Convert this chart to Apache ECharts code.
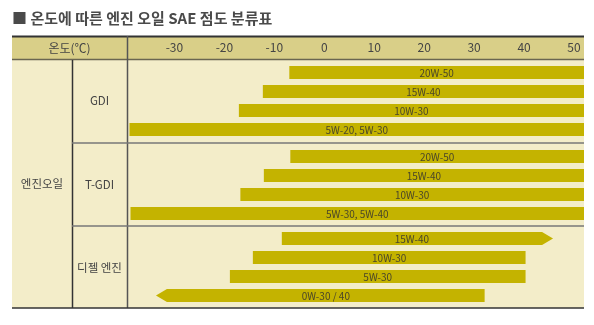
<!DOCTYPE html>
<html><head><meta charset="utf-8">
<script src="https://cdn.jsdelivr.net/npm/echarts@6/dist/echarts.min.js"></script>
<style>html,body{margin:0;padding:0;background:#fff;}#c{width:594px;height:325px;}</style>
</head><body><div id="c"></div>
<script>
const titleText = '■ 온도에 따른 엔진 오일 SAE 점도 분류표';
const headerLabel = '온도(℃)';
const engineLabel = '엔진오일';
const tickLabels = [-30, -20, -10, 0, 10, 20, 30, 40, 50];
const groups = ['GDI', 'T-GDI', '디젤 엔진'];

const gdiGrades = ['20W-50', '15W-40', '10W-30', '5W-20, 5W-30'];
const gdiStart = [-7, -12.3, -17.1, -39];
const gdiEnd = [52, 52, 52, 52];
const gdiArrow = ['', '', '', ''];

const tgdiGrades = ['20W-50', '15W-40', '10W-30', '5W-30, 5W-40'];
const tgdiStart = [-6.8, -12.1, -16.8, -38.8];
const tgdiEnd = [52, 52, 52, 52];
const tgdiArrow = ['', '', '', ''];

const dieselGrades = ['15W-40', '10W-30', '5W-30', '0W-30 / 40'];
const dieselStart = [-8.5, -14.3, -18.9, -31.5];
const dieselEnd = [43.6, 40.3, 40.3, 32.1];
const dieselArrow = ['right', '', '', 'left'];

const sets = [
  {grades: gdiGrades, start: gdiStart, end: gdiEnd, arrow: gdiArrow},
  {grades: tgdiGrades, start: tgdiStart, end: tgdiEnd, arrow: tgdiArrow},
  {grades: dieselGrades, start: dieselStart, end: dieselEnd, arrow: dieselArrow}
];

const FONT = '"Noto Sans CJK KR", "Noto Sans", sans-serif';
const BAR = '#c4b300';
const TXT = '#444444';
const L = 12, R = 584, C1 = 72, C2 = 127;
const HT = 36, HB = 60, BOT = 308;
const gridTops = [63, 147, 229];
const sepY = [143, 226];
const groupY = [101, 185, 268];

const chart = echarts.init(document.getElementById('c'), null, {renderer: 'canvas'});

function makeRender(set) {
  return function (params, api) {
    const i = params.dataIndex;
    const p0 = api.coord([api.value(1), api.value(0)]);
    const p1 = api.coord([api.value(2), api.value(0)]);
    const h = api.size([0, 1])[1] * 0.68;
    const y0 = p0[1] - h / 2, y1 = p0[1] + h / 2, yc = p0[1];
    const x0 = p0[0], x1 = p1[0];
    const a = 11;
    let pts;
    if (set.arrow[i] === 'right') {
      pts = [[x0, y0], [x1, y0], [x1 + a, yc], [x1, y1], [x0, y1]];
    } else if (set.arrow[i] === 'left') {
      pts = [[x0 - a, yc], [x0, y0], [x1, y0], [x1, y1], [x0, y1]];
    } else {
      pts = [[x0, y0], [x1, y0], [x1, y1], [x0, y1]];
    }
    return {
      type: 'group',
      children: [
        {type: 'polygon', shape: {points: pts}, style: {fill: BAR}},
        {type: 'text', style: {x: (x0 + x1) / 2, y: yc + 0.5, text: set.grades[i],
          align: 'center', verticalAlign: 'middle', fill: '#4a4628',
          font: '10px ' + FONT}}
      ]
    };
  };
}

const grids = [], xAxes = [], yAxes = [], series = [];
sets.forEach((set, g) => {
  grids.push({left: C2, right: 594 - R, top: gridTops[g], height: 76});
  xAxes.push({
    type: 'value', gridIndex: g, min: -39.5, max: 52, position: 'top',
    show: g === 0,
    axisLine: {show: false}, axisTick: {show: false}, splitLine: {show: false},
    axisLabel: {show: g === 0, customValues: tickLabels, margin: 10,
      color: TXT, fontSize: 12, fontFamily: FONT}
  });
  yAxes.push({type: 'category', gridIndex: g, data: set.grades, inverse: true, show: false});
  series.push({
    type: 'custom', xAxisIndex: g, yAxisIndex: g,
    renderItem: makeRender(set),
    encode: {x: [1, 2], y: 0},
    data: set.grades.map((n, i) => [i, set.start[i], set.end[i]]),
    silent: true, z: 5
  });
});

const graphics = [
  {type: 'rect', shape: {x: L, y: HT, width: R - L, height: HB - HT}, style: {fill: '#d9cf88'}, z: -10},
  {type: 'rect', shape: {x: L, y: HB, width: R - L, height: BOT - HB}, style: {fill: '#f3edc9'}, z: -10},
  {type: 'line', shape: {x1: L, y1: HT + 0.5, x2: R, y2: HT + 0.5}, style: {stroke: '#333', lineWidth: 2}, z: -5},
  {type: 'line', shape: {x1: L, y1: HB - 0.5, x2: R, y2: HB - 0.5}, style: {stroke: '#6a6650', lineWidth: 1.5}, z: -5},
  {type: 'line', shape: {x1: C2 + 0.5, y1: HT, x2: C2 + 0.5, y2: BOT}, style: {stroke: '#555', lineWidth: 1.5}, z: -5},
  {type: 'line', shape: {x1: C1 + 0.5, y1: HB, x2: C1 + 0.5, y2: BOT}, style: {stroke: '#333', lineWidth: 1.5}, z: -5},
  {type: 'line', shape: {x1: C1, y1: sepY[0], x2: R, y2: sepY[0]}, style: {stroke: '#777', lineWidth: 1.5}, z: -5},
  {type: 'line', shape: {x1: C1, y1: sepY[1], x2: R, y2: sepY[1]}, style: {stroke: '#777', lineWidth: 1.5}, z: -5},
  {type: 'line', shape: {x1: L, y1: BOT, x2: R, y2: BOT}, style: {stroke: '#333', lineWidth: 1.5}, z: -5},
  {type: 'text', style: {x: 12, y: 18, text: titleText, fill: '#4a4a4a', font: 'bold 15px ' + FONT, verticalAlign: 'middle'}},
  {type: 'text', style: {x: (L + C2) / 2, y: 48, text: headerLabel, fill: TXT, font: '12px ' + FONT, align: 'center', verticalAlign: 'middle'}},
  {type: 'text', style: {x: (L + C1) / 2, y: 184, text: engineLabel, fill: TXT, font: '11.5px ' + FONT, align: 'center', verticalAlign: 'middle'}}
];
groups.forEach((name, g) => {
  graphics.push({type: 'text', style: {x: (C1 + C2) / 2, y: groupY[g], text: name, fill: TXT,
    font: '11.5px ' + FONT, align: 'center', verticalAlign: 'middle'}});
});

chart.setOption({
  animation: false,
  backgroundColor: '#ffffff',
  grid: grids, xAxis: xAxes, yAxis: yAxes, series: series,
  graphic: graphics
});
</script></body></html>
